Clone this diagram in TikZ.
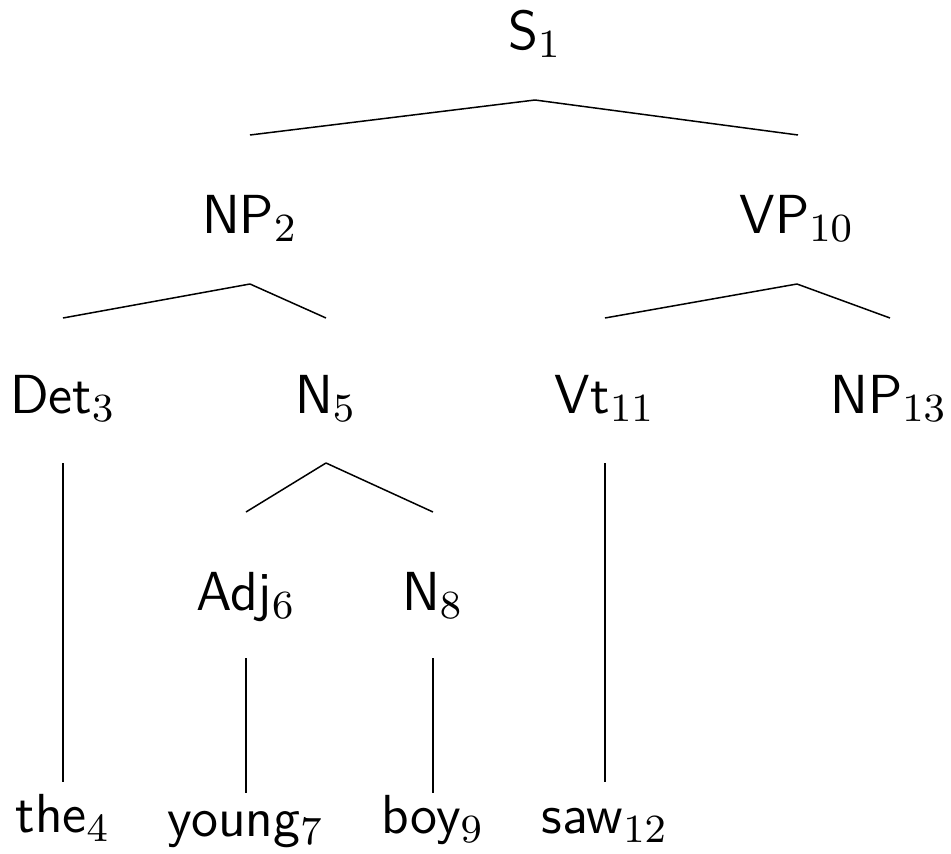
\documentclass[tikz,border=0pt]{standalone}
\begin{document}
\begin{tikzpicture}[x=0.2pt,y=-0.2pt,
  lab/.style={anchor=base,inner sep=0pt,font=\fontsize{11}{13.2}\selectfont\sffamily},
  edge/.style={line width=0.3pt}]
\useasboundingbox (0,0) rectangle (951,854);
% nodes
\node[lab] (S1) at (535,49) {S$_1$};
\node[lab] (NP2) at (250,233) {NP$_2$};
\node[lab] (VP10) at (797,233) {VP$_{10}$};
\node[lab] (Det3) at (63,413) {Det$_3$};
\node[lab] (N5) at (326,413) {N$_5$};
\node[lab] (Vt11) at (605,413) {Vt$_{11}$};
\node[lab] (NP13) at (889,413) {NP$_{13}$};
\node[lab] (Adj6) at (246,610) {Adj$_6$};
\node[lab] (N8) at (433,610) {N$_8$};
\node[lab] (the4) at (63,833) {the$_4$};
\node[lab] (young7) at (246,836) {young$_7$};
\node[lab] (boy9) at (433,834) {boy$_9$};
\node[lab] (saw12) at (605,834) {saw$_{12}$};
% edges
\draw[edge] ([yshift=-51*0.2pt]S1.base) -- ([yshift=98*0.2pt]NP2.base);
\draw[edge] ([yshift=-51*0.2pt]S1.base) -- ([yshift=98*0.2pt,xshift=1*0.2pt]VP10.base);
\draw[edge] ([yshift=-51*0.2pt]NP2.base) -- ([yshift=95*0.2pt]Det3.base);
\draw[edge] ([yshift=-51*0.2pt]NP2.base) -- ([yshift=95*0.2pt]N5.base);
\draw[edge] ([yshift=-51*0.2pt]VP10.base) -- ([yshift=95*0.2pt]Vt11.base);
\draw[edge] ([yshift=-51*0.2pt]VP10.base) -- ([yshift=95*0.2pt,xshift=1*0.2pt]NP13.base);
\draw[edge] ([yshift=-50*0.2pt]Det3.base) -- ([yshift=51*0.2pt]the4.base);
\draw[edge] ([yshift=-50*0.2pt]N5.base) -- ([yshift=98*0.2pt]Adj6.base);
\draw[edge] ([yshift=-50*0.2pt]N5.base) -- ([yshift=98*0.2pt]N8.base);
\draw[edge] ([yshift=-50*0.2pt]Vt11.base) -- ([yshift=52*0.2pt]saw12.base);
\draw[edge] ([yshift=-48*0.2pt]Adj6.base) -- ([yshift=43*0.2pt]young7.base);
\draw[edge] ([yshift=-48*0.2pt]N8.base) -- ([yshift=41*0.2pt]boy9.base);
\end{tikzpicture}
\end{document}
